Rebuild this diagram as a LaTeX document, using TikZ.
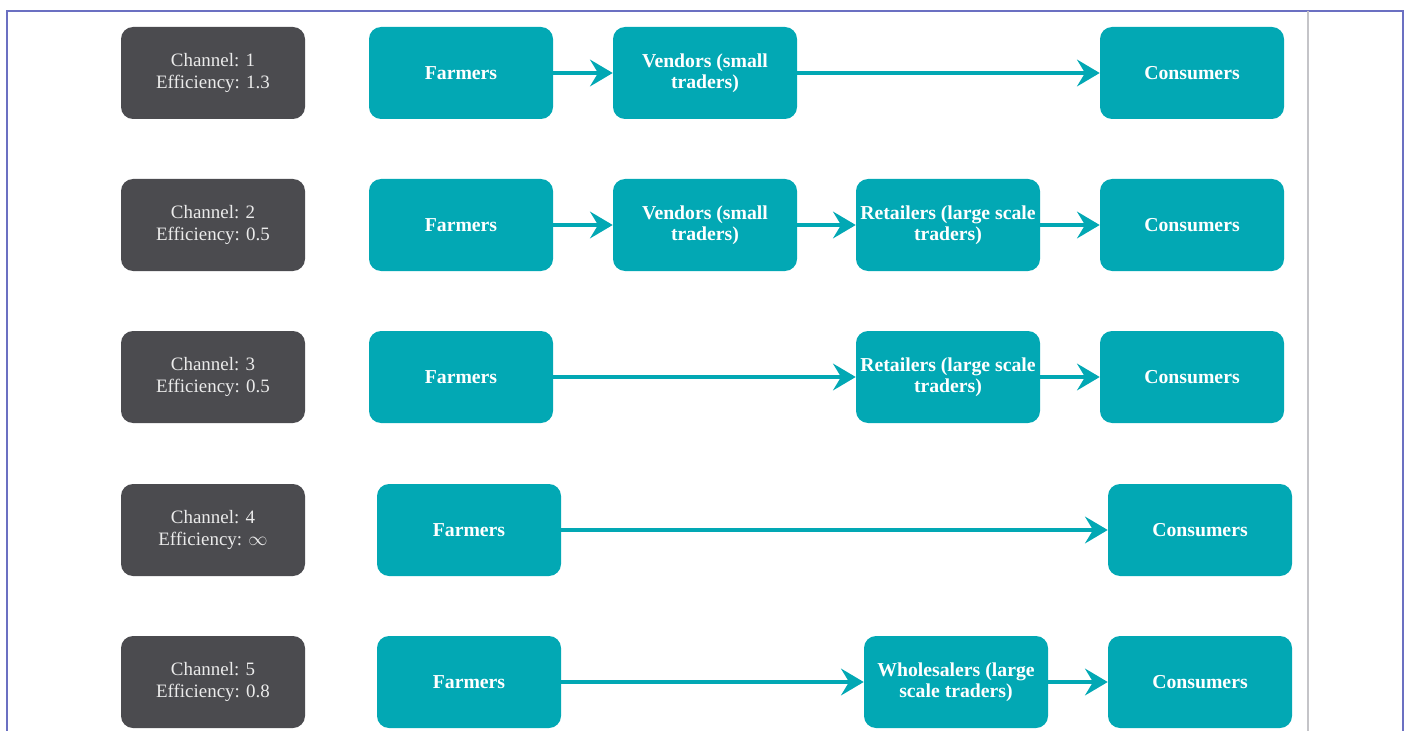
\documentclass[tikz,border=0pt]{standalone}
\usepackage{fontspec}
\setmainfont{Liberation Serif}
\usetikzlibrary{arrows.meta}
\definecolor{teal1}{HTML}{02A8B4}
\definecolor{dark1}{HTML}{4B4B4F}
\definecolor{frame1}{HTML}{6B70C2}
\definecolor{sep1}{HTML}{C4C4C8}
\tikzset{
  chan/.style={fill=dark1, rounded corners=9pt, minimum width=138pt, minimum height=69pt, inner sep=0pt, align=center, text=white!92!black, font=\fontsize{14.2}{16.5}\selectfont},
  actor/.style={fill=teal1, rounded corners=9pt, minimum width=138pt, minimum height=69pt, inner sep=0pt, align=center, text=white, font=\bfseries\fontsize{14.8}{16}\selectfont},
  flow/.style={draw=teal1, line width=3pt, -{Stealth[length=17pt, width=20pt, inset=6pt]}}
}
\begin{document}
\begin{tikzpicture}[x=0.75pt,y=-0.75pt]
\useasboundingbox (0,0) rectangle (1407,731);
\draw[frame1, line width=1.5pt] (7,740) -- (7,11) -- (1403,11) -- (1403,740);
\draw[sep1, line width=0.8pt] (1308,11) -- (1308,740);
% row 1
\node[chan] (c1) at (213,73) {Channel: 1\\Efficiency: 1.3};
\node[actor] (f1) at (461,73) {Farmers};
\node[actor] (v1) at (705,73) {Vendors (small\\traders)};
\node[actor] (k1) at (1192,73) {Consumers};
\draw[flow] (f1) -- (v1);
\draw[flow] (v1) -- (k1);
% row 2
\node[chan] (c2) at (213,225) {Channel: 2\\Efficiency: 0.5};
\node[actor] (f2) at (461,225) {Farmers};
\node[actor] (v2) at (705,225) {Vendors (small\\traders)};
\node[actor] (r2) at (948,225) {Retailers (large scale\\traders)};
\node[actor] (k2) at (1192,225) {Consumers};
\draw[flow] (f2) -- (v2);
\draw[flow] (v2) -- (r2);
\draw[flow] (r2) -- (k2);
% row 3
\node[chan] (c3) at (213,377) {Channel: 3\\Efficiency: 0.5};
\node[actor] (f3) at (461,377) {Farmers};
\node[actor] (r3) at (948,377) {Retailers (large scale\\traders)};
\node[actor] (k3) at (1192,377) {Consumers};
\draw[flow] (f3) -- (r3);
\draw[flow] (r3) -- (k3);
% row 4
\node[chan] (c4) at (213,530) {Channel: 4\\Efficiency: $\infty$};
\node[actor] (f4) at (469,530) {Farmers};
\node[actor] (k4) at (1200,530) {Consumers};
\draw[flow] (f4) -- (k4);
% row 5
\node[chan] (c5) at (213,682) {Channel: 5\\Efficiency: 0.8};
\node[actor] (f5) at (469,682) {Farmers};
\node[actor] (w5) at (956,682) {Wholesalers (large\\scale traders)};
\node[actor] (k5) at (1200,682) {Consumers};
\draw[flow] (f5) -- (w5);
\draw[flow] (w5) -- (k5);
\end{tikzpicture}
\end{document}
